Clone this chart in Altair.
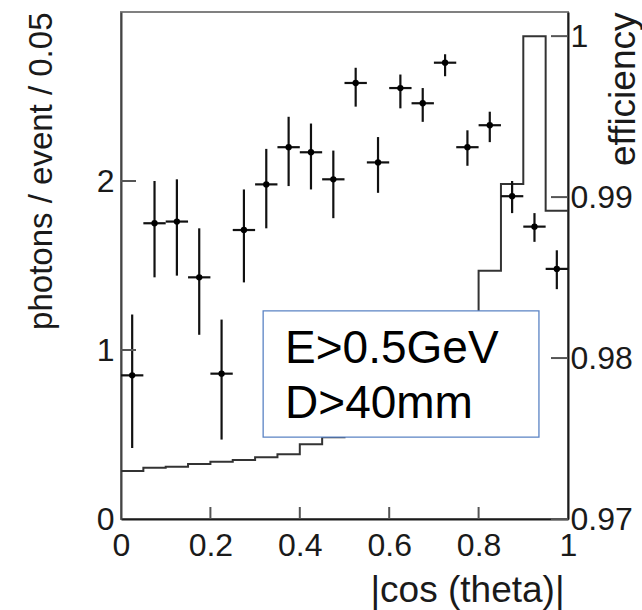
import altair as alt
import pandas as pd

# ---- data ----
bin_lo = [0.00, 0.05, 0.10, 0.15, 0.20, 0.25, 0.30, 0.35, 0.40, 0.45,
          0.50, 0.55, 0.60, 0.65, 0.70, 0.75, 0.80, 0.85, 0.90, 0.95]
bin_hi = [0.05, 0.10, 0.15, 0.20, 0.25, 0.30, 0.35, 0.40, 0.45, 0.50,
          0.55, 0.60, 0.65, 0.70, 0.75, 0.80, 0.85, 0.90, 0.95, 1.00]
bin_center = [0.025, 0.075, 0.125, 0.175, 0.225, 0.275, 0.325, 0.375, 0.425, 0.475,
              0.525, 0.575, 0.625, 0.675, 0.725, 0.775, 0.825, 0.875, 0.925, 0.975]
photons = [0.85, 1.75, 1.76, 1.43, 0.86, 1.71, 1.98, 2.20, 2.17, 2.01,
           2.58, 2.11, 2.55, 2.46, 2.70, 2.20, 2.33, 1.91, 1.73, 1.48]
photons_lo = [0.42, 1.43, 1.44, 1.09, 0.47, 1.40, 1.72, 1.97, 1.95, 1.78,
              2.44, 1.93, 2.43, 2.35, 2.62, 2.09, 2.23, 1.81, 1.64, 1.36]
photons_hi = [1.21, 2.00, 2.01, 1.72, 1.18, 1.95, 2.19, 2.38, 2.34, 2.18,
              2.67, 2.26, 2.63, 2.55, 2.75, 2.30, 2.41, 2.00, 1.81, 1.59]
efficiency = [0.97298, 0.97319, 0.97325, 0.97342, 0.97356, 0.97367, 0.97383, 0.97402,
              0.97464, 0.97508, 0.97520, 0.97540, 0.97570, 0.97620, 0.97740, 0.97990,
              0.98542, 0.99081, 1.00000, 0.98915]

x_ticks = [0.2, 0.4, 0.6, 0.8]
x_labels = [0, 0.2, 0.4, 0.6, 0.8, 1]
left_ticks = [1, 2]
left_labels = [0, 1, 2]
right_ticks = [0.97, 0.98, 0.99, 1.0]

box_lines = ["E>0.5GeV", "D>40mm"]
box_line_y = [0.923, 0.598]
box_text_x = 0.367
box_x = [0.318]
box_x2 = [0.935]
box_y = [0.485]
box_y2 = [1.231]

W, H = 447, 507
FONT = "Liberation Sans"
INK = "#1a1a1a"

pts = pd.DataFrame({"x": bin_center, "y": photons, "lo": photons_lo, "hi": photons_hi,
                    "xl": bin_lo, "xh": bin_hi})

step_rows = []
for i, (a, b, e) in enumerate(zip(bin_lo, bin_hi, efficiency)):
    step_rows.append({"x": a, "eff": e, "o": 2 * i})
    step_rows.append({"x": b, "eff": e, "o": 2 * i + 1})
steps = pd.DataFrame(step_rows)

xscale = alt.Scale(domain=[0, 1], nice=False, zero=False)
yL = alt.Scale(domain=[0, 3.0], nice=False, zero=False)
yR = alt.Scale(domain=[0.97, 1.0015], nice=False, zero=False)

x_axis = alt.Axis(values=x_labels, format="~g", ticks=False, tickSize=0, grid=False,
                  domainColor=INK, domainWidth=2,
                  labelFont=FONT, labelFontSize=32, labelColor=INK,
                  labelBaseline="alphabetic", labelPadding=36, labelFlush=False,
                  title="|cos (theta)|", titleFont=FONT, titleFontSize=37,
                  titleFontWeight="normal", titleColor=INK, titleAlign="right",
                  titleBaseline="alphabetic", titleX=443, titleY=82, titleAngle=0)

left_axis = alt.Axis(orient="left", values=left_labels, format="~g", ticks=False,
                     tickSize=0, grid=False, domainColor="#444", domainWidth=2,
                     labelFont=FONT, labelFontSize=32, labelColor=INK,
                     labelPadding=7, labelFlush=False,
                     title="photons / event / 0.05", titleFont=FONT, titleFontSize=33,
                     titleFontWeight="normal", titleColor=INK, titleAngle=-90,
                     titleAlign="right", titleBaseline="alphabetic",
                     titleX=-70, titleY=0)

right_axis = alt.Axis(orient="right", values=right_ticks, format="~g", ticks=False,
                      tickSize=0, grid=False, domainColor=INK, domainWidth=2,
                      labelFont=FONT, labelFontSize=32, labelColor=INK,
                      labelPadding=2, labelFlush=False,
                      title="efficiency", titleFont=FONT, titleFontSize=37,
                      titleFontWeight="normal", titleColor=INK, titleAngle=-90,
                      titleAlign="right", titleBaseline="alphabetic", titleLimit=1000,
                      titleX=66, titleY=0)

X = lambda f: alt.X(f, type="quantitative", scale=xscale, axis=x_axis)

hist = alt.Chart(steps).mark_line(color="#333", strokeWidth=2, interpolate="linear").encode(
    x=X("x"),
    y=alt.Y("eff:Q", scale=yR, axis=right_axis),
    order="o:Q",
)

right_tick_layer = alt.Chart(pd.DataFrame({"t": right_ticks})).mark_rule(
    color="#555", strokeWidth=2).encode(
    y=alt.Y("t:Q", scale=yR, axis=None),
    x=alt.value(W - 17), x2=alt.value(W),
)

boxdf = pd.DataFrame({"x": box_x, "x2": box_x2, "y": box_y, "y2": box_y2})
box = alt.Chart(boxdf).mark_rect(fill="white", stroke="#5b83c4", strokeWidth=1.3).encode(
    x=X("x"), x2="x2:Q",
    y=alt.Y("y:Q", scale=yL, axis=None), y2="y2:Q",
)

txtdf = pd.DataFrame({"x": [box_text_x] * len(box_lines), "y": box_line_y, "t": box_lines})
txt = alt.Chart(txtdf).mark_text(font=FONT, fontSize=46, color="black", align="left",
                                 baseline="alphabetic").encode(
    x=X("x"),
    y=alt.Y("y:Q", scale=yL, axis=None),
    text="t:N",
)

vbars = alt.Chart(pts).mark_rule(color="#111", strokeWidth=2.2).encode(
    x=X("x"),
    y=alt.Y("lo:Q", scale=yL, axis=None), y2="hi:Q",
)
hbars = alt.Chart(pts).mark_rule(color="#111", strokeWidth=2.2).encode(
    x=X("xl"), x2="xh:Q",
    y=alt.Y("y:Q", scale=yL, axis=None),
)
dots = alt.Chart(pts).mark_circle(color="black", size=40, opacity=1).encode(
    x=X("x"),
    y=alt.Y("y:Q", scale=yL, axis=left_axis),
)

left_tick_layer = alt.Chart(pd.DataFrame({"t": left_ticks})).mark_rule(
    color="#555", strokeWidth=2).encode(
    y=alt.Y("t:Q", scale=yL, axis=None),
    x=alt.value(0), x2=alt.value(15),
)
x_tick_layer = alt.Chart(pd.DataFrame({"t": x_ticks})).mark_rule(
    color="#555", strokeWidth=2).encode(
    x=X("t"),
    y=alt.value(H - 12), y2=alt.value(H),
)

chart = alt.layer(
    hist, right_tick_layer, box, txt, vbars, hbars, dots, left_tick_layer, x_tick_layer
).resolve_scale(y="independent").properties(
    width=W, height=H,
    autosize=alt.AutoSizeParams(type="none"),
    padding={"left": 121, "top": 12, "right": 642 - 121 - W, "bottom": 610 - 12 - H},
    background="white",
).configure_view(stroke="#808080", strokeWidth=2)

chart.save("out.html", embed_options={"renderer": "svg", "actions": False})
